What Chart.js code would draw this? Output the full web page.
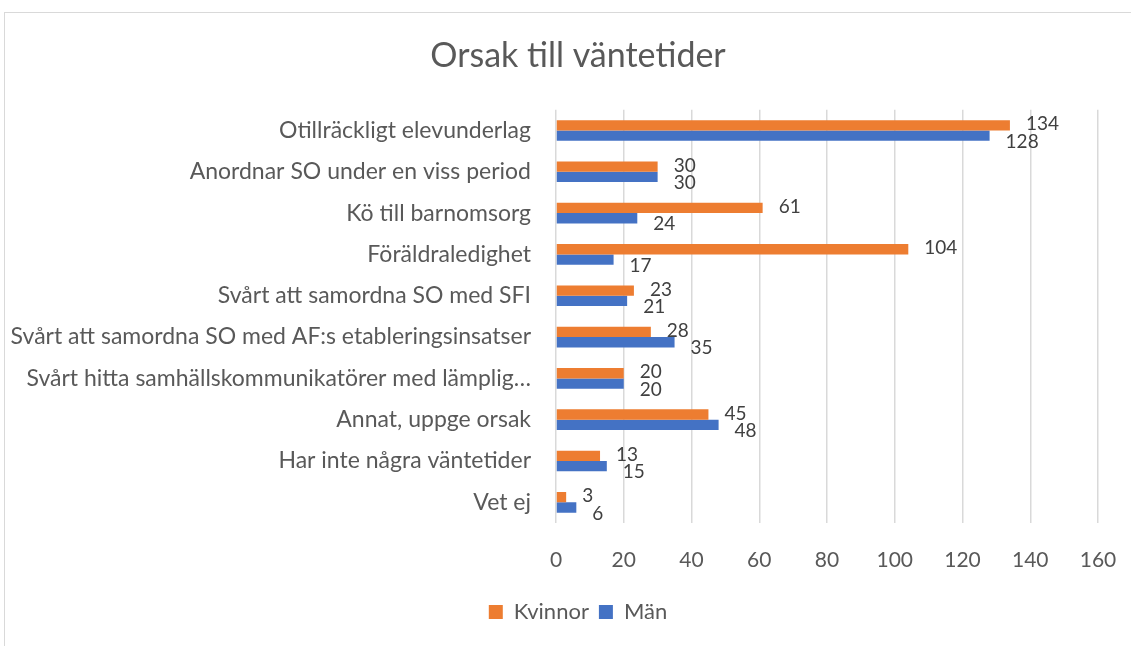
<!DOCTYPE html>
<html>
<head>
<meta charset="utf-8">
<script src="https://cdn.jsdelivr.net/npm/chart.js@4"></script>
<style>
    body { margin: 0; background: #fff; overflow: hidden; }
    #frame {
        position: absolute;
        left: 4px;
        top: 12px;
        width: 1146px;
        height: 660px;
        border: 1px solid #d9d9d9;
    }
</style>
</head>
<body>
<div id="frame">
    <canvas id="wait-chart" width="1146" height="640"></canvas>
</div>
<script>
var categories = [
    "Otillräckligt elevunderlag",
    "Anordnar SO under en viss period",
    "Kö till barnomsorg",
    "Föräldraledighet",
    "Svårt att samordna SO med SFI",
    "Svårt att samordna SO med AF:s etableringsinsatser",
    "Svårt hitta samhällskommunikatörer med lämplig…",
    "Annat, uppge orsak",
    "Har inte några väntetider",
    "Vet ej"
];
var kvinnor = [134, 30, 61, 104, 23, 28, 20, 45, 13, 3];
var man = [128, 30, 24, 17, 21, 35, 20, 48, 15, 6];
var xTicks = [0, 20, 40, 60, 80, 100, 120, 140, 160];

var fontName = "Lato, 'Open Sans', sans-serif";

// small value labels to the right of each bar, like Excel's outside end
var barLabels = {
    id: "barLabels",
    afterDatasetsDraw(chart) {
        let ctx = chart.ctx;
        ctx.save();
        ctx.font = "19px " + fontName;
        ctx.fillStyle = "#404040";
        ctx.textBaseline = "middle";
        chart.data.datasets.forEach(function (ds, i) {
            let meta = chart.getDatasetMeta(i);
            meta.data.forEach(function (bar, j) {
                let dy = i == 0 ? -1 : 6;
                ctx.fillText(ds.data[j], bar.x + 16, bar.y + dy);
            });
        });
        ctx.restore();
    }
};

let chartData = {
    labels: categories,
    datasets: [{
        label: "Kvinnor",
        data: kvinnor,
        backgroundColor: "#ED7D31"
    }, {
        label: "Män",
        data: man,
        backgroundColor: "#4472C4"
    }]
};

let chartOptions = {
    indexAxis: "y",
    responsive: false,
    animation: false,
    layout: {
        padding: { left: 0, right: 0, top: 0, bottom: 20 }
    },
    datasets: {
        bar: {
            categoryPercentage: 0.5,
            barPercentage: 1.0
        }
    },
    scales: {
        x: {
            min: 0,
            max: 160,
            afterBuildTicks: function (axis) {
                axis.ticks = xTicks.map(function (v) { return { value: v }; });
            },
            afterFit: function (axis) { axis.height = 68; },
            grid: {
                color: "#d9d9d9",
                lineWidth: 1.5,
                drawTicks: false
            },
            border: { display: false },
            ticks: {
                padding: 25,
                color: "#595959",
                font: { family: fontName, size: 21 }
            }
        },
        y: {
            afterFit: function (axis) { axis.width = 551; },
            grid: { display: false },
            border: { display: false },
            ticks: {
                padding: 17,
                color: "#595959",
                font: { family: fontName, size: 23 }
            }
        },
        // empty right-hand axis, only to keep space right of the plot
        pad: {
            type: "linear",
            axis: "y",
            position: "right",
            afterFit: function (axis) { axis.width = 53; },
            grid: { display: false },
            border: { display: false },
            ticks: { display: false }
        }
    },
    plugins: {
        title: {
            display: true,
            text: "Orsak till väntetider",
            color: "#595959",
            font: { family: fontName, size: 34, weight: "normal" },
            padding: { top: 23, bottom: 33 }
        },
        legend: {
            position: "bottom",
            labels: {
                boxWidth: 14,
                boxHeight: 14,
                padding: 10,
                color: "#595959",
                font: { family: fontName, size: 22 }
            }
        },
        tooltip: { enabled: false }
    }
};

let ctx = document.getElementById("wait-chart").getContext("2d");
new Chart(ctx, {
    type: "bar",
    data: chartData,
    options: chartOptions,
    plugins: [barLabels]
});
</script>
</body>
</html>
